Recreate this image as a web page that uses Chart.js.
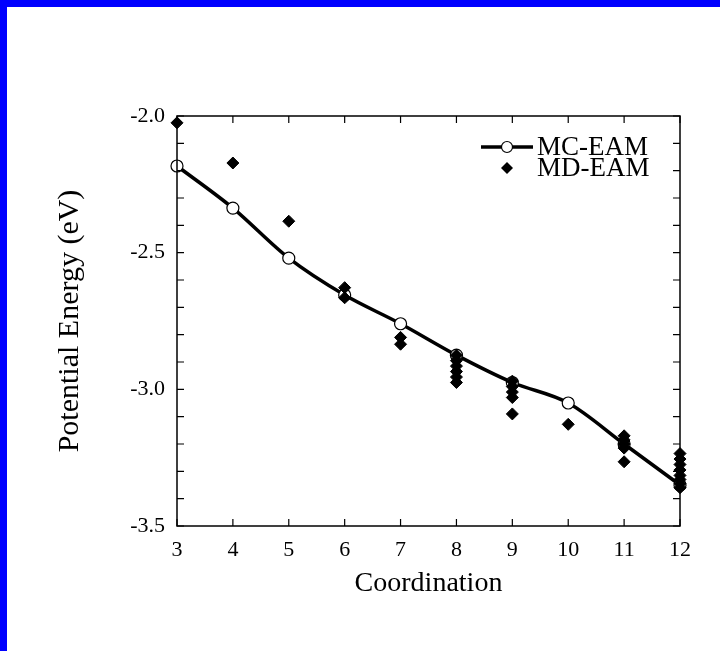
<!DOCTYPE html>
<html>
<head>
<meta charset="utf-8">
<script src="https://cdn.jsdelivr.net/npm/chart.js@4"></script>
<style>
  html, body { margin: 0; padding: 0; background: #fff; }
  #wrap { position: relative; width: 720px; height: 651px; }
  #top { position: absolute; left: 0; top: 0; width: 720px; height: 7px; background: #0000ff; }
  #left { position: absolute; left: 0; top: 0; width: 7px; height: 651px; background: #0000ff; }
</style>
</head>
<body>
<div id="wrap">
  <canvas id="my-chart" width="720" height="651"></canvas>
  <div id="top"></div>
  <div id="left"></div>
</div>
<script>
// MC-EAM curve (open circles + line)
const coordination = [3, 4, 5, 6, 7, 8, 9, 10, 11, 12];
const mcEnergy = [-2.183, -2.337, -2.52, -2.655, -2.76, -2.875, -2.975, -3.05, -3.20, -3.35];

// MD-EAM scatter (filled diamonds)
const mdCoord = [3, 4, 5, 6, 6, 7, 7,
  8, 8, 8, 8, 8, 8,
  9, 9, 9, 9, 9,
  10,
  11, 11, 11, 11, 11,
  12, 12, 12, 12, 12, 12, 12, 12];
const mdEnergy = [-2.025, -2.172, -2.385, -2.628, -2.665, -2.81, -2.835,
  -2.875, -2.895, -2.915, -2.935, -2.955, -2.975,
  -2.97, -2.99, -3.01, -3.03, -3.09,
  -3.128,
  -3.17, -3.185, -3.20, -3.215, -3.265,
  -3.235, -3.255, -3.275, -3.295, -3.315, -3.33, -3.345, -3.36];

const xTicks = [3, 4, 5, 6, 7, 8, 9, 10, 11, 12];
const yLabelled = ['-2.0', '-2.5', '-3.0', '-3.5'];

const serif = '"Liberation Serif", "DejaVu Serif", serif';

// inward ticks on all four sides + frame
const frameTicks = {
  id: 'frameTicks',
  afterDraw(chart) {
    const { ctx, chartArea: a, scales } = chart;
    ctx.save();
    ctx.strokeStyle = '#000';
    ctx.lineWidth = 1.5;
    ctx.strokeRect(a.left, a.top, a.right - a.left, a.bottom - a.top);
    ctx.lineWidth = 1.2;
    ctx.beginPath();
    scales.x.ticks.forEach(t => {
      const px = scales.x.getPixelForValue(t.value);
      ctx.moveTo(px, a.bottom); ctx.lineTo(px, a.bottom - 7);
      ctx.moveTo(px, a.top); ctx.lineTo(px, a.top + 7);
    });
    scales.y.ticks.forEach(t => {
      const py = scales.y.getPixelForValue(t.value);
      ctx.moveTo(a.left, py); ctx.lineTo(a.left + 7, py);
      ctx.moveTo(a.right, py); ctx.lineTo(a.right - 7, py);
    });
    ctx.stroke();
    ctx.restore();
  }
};

// legend drawn inside the plot, top right
const innerLegend = {
  id: 'innerLegend',
  afterDraw(chart) {
    const { ctx } = chart;
    ctx.save();
    ctx.strokeStyle = '#000';
    ctx.lineWidth = 3.5;
    ctx.beginPath();
    ctx.moveTo(481, 147); ctx.lineTo(533, 147);
    ctx.stroke();
    ctx.fillStyle = '#fff';
    ctx.lineWidth = 1.2;
    ctx.beginPath();
    ctx.arc(507, 147, 5.5, 0, Math.PI * 2);
    ctx.fill(); ctx.stroke();
    ctx.fillStyle = '#000';
    ctx.beginPath();
    ctx.moveTo(507, 162); ctx.lineTo(513, 168); ctx.lineTo(507, 174); ctx.lineTo(501, 168);
    ctx.closePath(); ctx.fill();
    ctx.font = '27px ' + serif;
    ctx.textBaseline = 'middle';
    ctx.fillText('MC-EAM', 537, 148);
    ctx.fillText('MD-EAM', 537, 169);
    ctx.restore();
  }
};

const ctx = document.getElementById('my-chart').getContext('2d');
const chart = new Chart(ctx, {
  type: 'scatter',
  data: {
    datasets: [
      {
        label: 'MD-EAM',
        data: mdCoord.map((c, i) => ({ x: c, y: mdEnergy[i] })),
        pointStyle: 'rectRot',
        pointRadius: 6,
        pointBackgroundColor: '#000',
        pointBorderColor: '#000',
        pointBorderWidth: 1,
        showLine: false,
        clip: false,
        order: 1
      },
      {
        label: 'MC-EAM',
        data: coordination.map((c, i) => ({ x: c, y: mcEnergy[i] })),
        showLine: true,
        borderColor: '#000',
        borderWidth: 3.5,
        cubicInterpolationMode: 'monotone',
        pointStyle: 'circle',
        pointRadius: 6,
        pointBackgroundColor: '#fff',
        pointBorderColor: '#000',
        pointBorderWidth: 1.2,
        clip: false,
        order: 2
      }
    ]
  },
  options: {
    responsive: false,
    animation: false,
    events: [],
    layout: { padding: { top: 116, right: 40, left: 0, bottom: 0 } },
    plugins: { legend: { display: false }, tooltip: { enabled: false } },
    scales: {
      x: {
        type: 'linear',
        min: 3,
        max: 12,
        afterBuildTicks: s => { s.ticks = xTicks.map(v => ({ value: v })); },
        afterFit: s => { s.height = 125; },
        grid: { display: false },
        border: { display: false },
        ticks: {
          color: '#000',
          padding: 3,
          font: { family: serif, size: 22 },
          callback: v => String(v)
        },
        title: {
          display: true,
          text: 'Coordination',
          color: '#000',
          font: { family: serif, size: 28 },
          padding: { top: 0, bottom: 51 }
        }
      },
      y: {
        min: -3.5,
        max: -2.0,
        afterFit: s => { s.width = 177; },
        grid: { display: false },
        border: { display: false },
        ticks: {
          stepSize: 0.1,
          autoSkip: false,
          color: '#000',
          padding: 4,
          font: { family: serif, size: 22 },
          callback: v => {
            const lab = (Math.round(v * 10) / 10).toFixed(1);
            return yLabelled.includes(lab) ? lab : '';
          }
        },
        title: {
          display: true,
          text: 'Potential Energy (eV)',
          color: '#000',
          font: { family: serif, size: 30 },
          padding: { top: 52, bottom: 0 }
        }
      }
    }
  },
  plugins: [frameTicks, innerLegend]
});
</script>
</body>
</html>
